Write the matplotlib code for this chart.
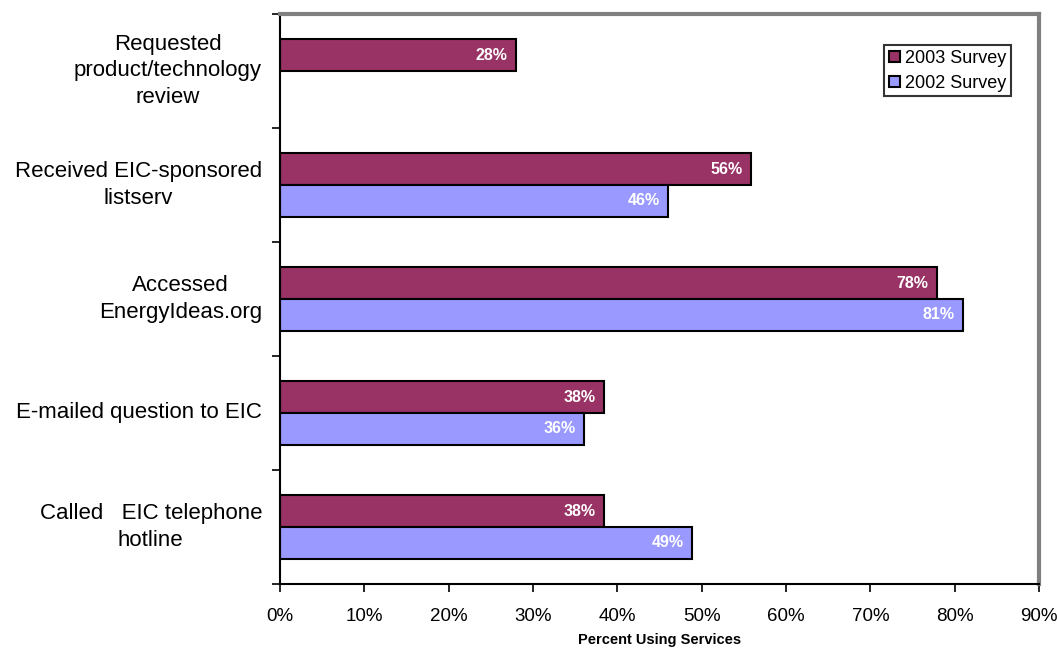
import numpy as np
import matplotlib.pyplot as plt
from matplotlib.ticker import FixedLocator, PercentFormatter

plt.rcParams['font.family'] = ['Liberation Sans', 'DejaVu Sans']

categories = ['Requested\nproduct/technology\nreview',
              'Received EIC-sponsored\nlistserv',
              'Accessed\nEnergyIdeas.org',
              'E-mailed question to EIC',
              'Called   EIC telephone\nhotline']
survey_2003 = [28.0, 55.8, 77.9, 38.4, 38.4]
survey_2002 = [np.nan, 46.0, 81.0, 36.1, 48.9]
labels_2003 = ['28%', '56%', '78%', '38%', '38%']
labels_2002 = ['', '46%', '81%', '36%', '49%']

fig = plt.figure(figsize=(10.57, 6.48), dpi=100)
ax = fig.add_axes([0.2649, 0.0988, 0.7181, 0.8796])

y = np.arange(len(categories))
h = 0.28

for i in range(len(categories)):
    ax.barh(y[i] - h/2, survey_2003[i], height=h, color='#993366',
            edgecolor='black', linewidth=1.5, label='2003 Survey' if i == 0 else None)
    ax.text(survey_2003[i] - 1.0, y[i] - h/2, labels_2003[i], color='white',
            fontsize=11.5, fontweight='bold', ha='right', va='center')
    if not np.isnan(survey_2002[i]):
        ax.barh(y[i] + h/2, survey_2002[i], height=h, color='#9999FF',
                edgecolor='black', linewidth=1.5, label='2002 Survey' if i == 1 else None)
        ax.text(survey_2002[i] - 1.0, y[i] + h/2, labels_2002[i], color='white',
                fontsize=11.5, fontweight='bold', ha='right', va='center')

ax.set_xlim(0, 90)
ax.set_ylim(len(categories) - 0.5, -0.5)
ax.set_xticks(np.arange(0, 91, 10))
ax.xaxis.set_major_formatter(PercentFormatter(decimals=0))
ax.tick_params(axis='x', labelsize=13.5, length=6, width=1.2, pad=11)

# category boundaries as ticks, labels right-aligned block with centred lines
ax.yaxis.set_major_locator(FixedLocator(np.arange(-0.5, len(categories), 1)))
ax.set_yticklabels([])
ax.tick_params(axis='y', length=6, width=1.2)
for i, c in enumerate(categories):
    ax.text(-0.0237, i, c, transform=ax.get_yaxis_transform(), ha='right',
            va='center', fontsize=16, multialignment='center', linespacing=1.35)

ax.set_xlabel('Percent Using Services', fontsize=10.5, fontweight='bold', labelpad=6)

for s in ['top', 'right']:
    ax.spines[s].set_color('#808080')
    ax.spines[s].set_linewidth(3)
for s in ['left', 'bottom']:
    ax.spines[s].set_color('black')
    ax.spines[s].set_linewidth(1.5)

leg = ax.legend(loc='upper right', bbox_to_anchor=(0.963, 0.945), fontsize=13,
                frameon=True, fancybox=False, edgecolor='black', handlelength=0.6,
                handleheight=0.6, handletextpad=0.3, borderpad=0.25, labelspacing=0.45,
                borderaxespad=0)
leg.get_frame().set_linewidth(1.5)

fig.savefig('out.png', dpi=100)
